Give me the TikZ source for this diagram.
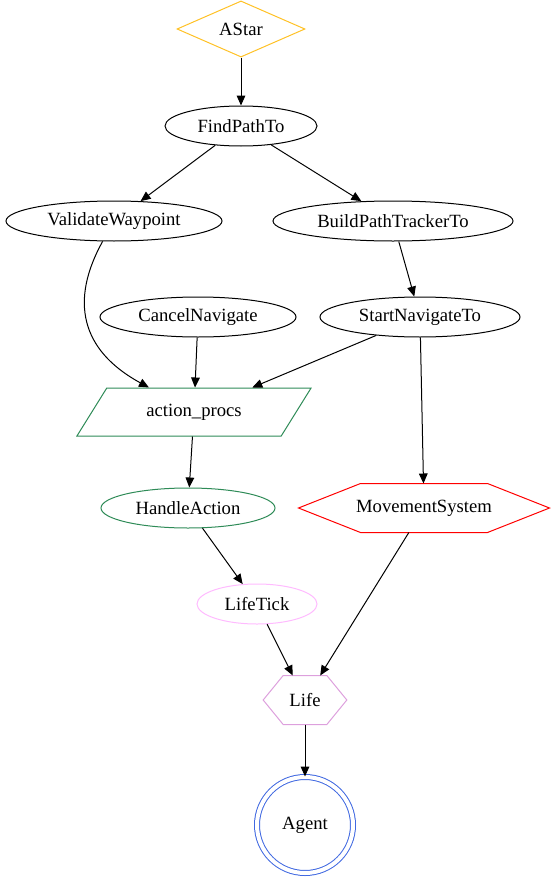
\documentclass[tikz,border=0pt]{standalone}
\usepackage{fontspec}
\setmainfont{Liberation Serif}
\usetikzlibrary{shapes.geometric,arrows.meta}
\definecolor{astarcol}{HTML}{FFC125}
\definecolor{seagreen}{HTML}{2E8B57}
\definecolor{plumone}{HTML}{FFBBFF}
\definecolor{plumcol}{HTML}{DDA0DD}
\definecolor{royalblue}{HTML}{4169E1}
\tikzset{
    gvnode/.style={inner sep=0pt, line width=0.75pt, font=\fontsize{14}{16}\selectfont},
    gvell/.style={gvnode, ellipse, draw, minimum height=30pt},
    gvhex/.style={gvnode, rectangle, draw=none, minimum height=36pt},
    gvedge/.style={-{Triangle[length=7.5pt,width=6.5pt]}, line width=0.75pt}
}
\begin{document}
\begin{tikzpicture}[x=0.75pt, y=-0.75pt]
        \useasboundingbox ( 0, 0 ) rectangle ( 555, 881 );

        % узлы
        \node [gvnode, diamond, draw=astarcol, minimum width=96pt, minimum height=35pt] (astar) at ( 241, 29 ) {AStar};
        \node [gvell, minimum width=114pt] (findpath) at ( 241, 126 ) {FindPathTo};
        \node [gvell, minimum width=162pt] (validate) at ( 114, 221 ) {ValidateWaypoint};
        \node [gvell, minimum width=180pt] (buildpath) at ( 393, 221 ) {BuildPathTrackerTo};
        \node [gvell, minimum width=147pt] (cancelnav) at ( 198, 317 ) {CancelNavigate};
        \node [gvell, minimum width=150pt] (startnav) at ( 420, 317 ) {StartNavigateTo};
        \node [gvnode, trapezium, trapezium left angle=45, trapezium right angle=135, trapezium stretches=true,
               draw=seagreen, minimum width=176pt, minimum height=36pt] (actions) at ( 194, 412 ) {action\_procs};
        \node [gvell, draw=seagreen, minimum width=130.5pt] (handle) at ( 188, 508 ) {HandleAction};
        \node [gvhex, minimum width=187.5pt] (movement) at ( 424, 508 ) {MovementSystem};
        \node [gvell, draw=plumone, minimum width=90pt] (lifetick) at ( 257, 604 ) {LifeTick};
        \node [gvhex, minimum width=62pt] (life) at ( 305, 700 ) {Life};
        \node [gvnode, circle, draw=royalblue, double=white, double distance=3pt, minimum size=72pt] (agent) at ( 305, 825 ) {Agent};

        % шестиугольники
        \draw [red, line width=0.75pt] (movement.west) -- ([xshift=46.5pt]movement.north west) -- ([xshift=-46.5pt]movement.north east)
            -- (movement.east) -- ([xshift=-46.5pt]movement.south east) -- ([xshift=46.5pt]movement.south west) -- cycle;
        \draw [plumcol, line width=0.75pt] (life.west) -- ([xshift=15pt]life.north west) -- ([xshift=-15pt]life.north east)
            -- (life.east) -- ([xshift=-15pt]life.south east) -- ([xshift=15pt]life.south west) -- cycle;

        % рёбра
        \draw [gvedge] (astar) -- (findpath);
        \draw [gvedge] (findpath) -- (validate);
        \draw [gvedge] (findpath) -- (buildpath);
        \draw [gvedge] (validate) .. controls ( 70, 300 ) and ( 80, 350 ) .. (actions);
        \draw [gvedge] (buildpath) -- (startnav);
        \draw [gvedge] (cancelnav) -- (actions);
        \draw [gvedge] (startnav) -- (actions);
        \draw [gvedge] (startnav) -- (movement);
        \draw [gvedge] (actions) -- (handle);
        \draw [gvedge] (handle) -- (lifetick);
        \draw [gvedge] (lifetick) -- (life);
        \draw [gvedge] (movement) -- (life);
        \draw [gvedge] (life) -- (agent);
    \end{tikzpicture}
\end{document}
